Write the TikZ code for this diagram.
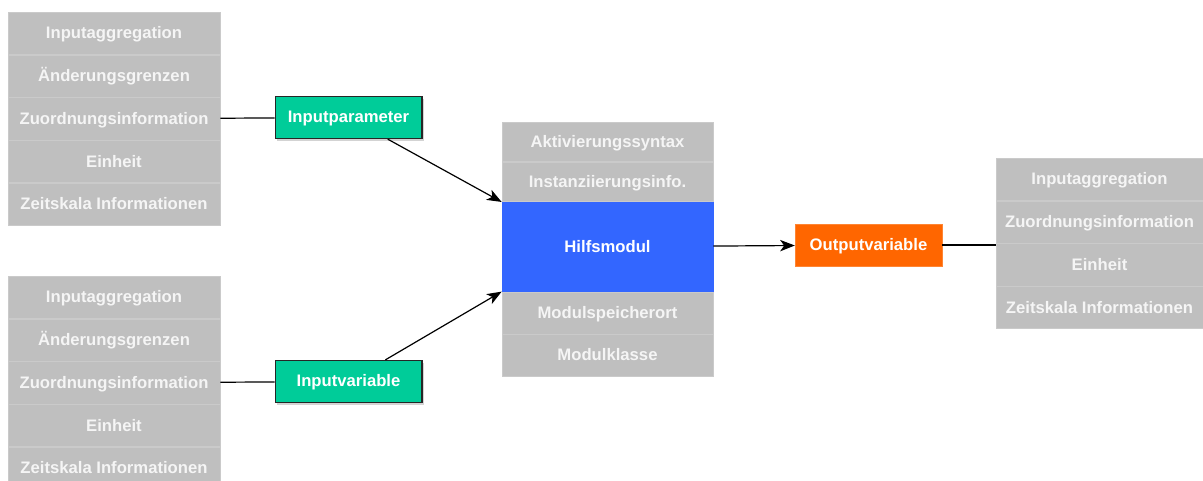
\documentclass[tikz,border=0pt]{standalone}
\usepackage{fontspec}
\setmainfont{Liberation Sans}
\usetikzlibrary{arrows.meta,positioning,shadows}

\definecolor{attrgray}{HTML}{BFBFBF}
\definecolor{attrline}{HTML}{CACACA}
\definecolor{attrtext}{HTML}{F5F5F5}
\definecolor{ingreen}{HTML}{00CC99}
\definecolor{modblue}{HTML}{3366FF}
\definecolor{outorange}{HTML}{FF6600}

\tikzset{
  attr/.style={draw=attrline, line width=0.5pt, fill=attrgray, text=attrtext,
    font=\bfseries\fontsize{12.5}{14}\selectfont, inner sep=0pt,
    text height=8.5pt, text depth=0.5pt,
    minimum width=159pt, minimum height=31.65pt},
  inbox/.style={draw=black!85, line width=1pt, fill=ingreen, text=white,
    font=\bfseries\fontsize{12.5}{14}\selectfont, inner sep=0pt,
    text height=8.5pt, text depth=0.5pt,
    minimum width=110pt, minimum height=31.5pt,
    drop shadow={shadow xshift=1.5pt, shadow yshift=-1.5pt, opacity=0.35}},
  outbox/.style={draw=outorange!80!white, line width=0.5pt, fill=outorange, text=white,
    font=\bfseries\fontsize{12.5}{14}\selectfont, inner sep=0pt,
    text height=8.5pt, text depth=0.5pt,
    minimum width=110pt, minimum height=31.5pt},
}

\begin{document}
\begin{tikzpicture}[x=0.75pt,y=0.75pt,>={Stealth[length=11pt,width=8.5pt,inset=3pt]},line width=0.9pt]
  \useasboundingbox (0,0) rectangle (1203,-480);

  % attributes of the input parameter
  \node[attr] (pa1) at (114,-33.1)     {Inputaggregation};
  \node[attr] (pa2) [below=0pt of pa1] {Änderungsgrenzen};
  \node[attr] (pa3) [below=0pt of pa2] {Zuordnungsinformation};
  \node[attr] (pa4) [below=0pt of pa3] {Einheit};
  \node[attr] (pa5) [below=0pt of pa4] {Zeitskala Informationen};

  % attributes of the input variable
  \node[attr] (va1) at (114,-297.1)    {Inputaggregation};
  \node[attr] (va2) [below=0pt of va1] {Änderungsgrenzen};
  \node[attr] (va3) [below=0pt of va2] {Zuordnungsinformation};
  \node[attr] (va4) [below=0pt of va3] {Einheit};
  \node[attr] (va5) [below=0pt of va4] {Zeitskala Informationen};

  \node[inbox] (ip) at (348.5,-117.5) {Inputparameter};
  \node[inbox] (iv) at (348.5,-381.5) {Inputvariable};

  % auxiliary module
  \node[attr, minimum width=158.25pt, minimum height=29.6pt]  (akt) at (607.5,-141.75) {Aktivierungssyntax};
  \node[attr, minimum width=158.25pt, minimum height=29.6pt]  (ins) [below=0pt of akt] {Instanziierungsinfo.};
  \node[attr, minimum width=158.25pt, minimum height=66.75pt, fill=modblue, draw=modblue, text=white]
                                                              (hm)  [below=0pt of ins] {Hilfsmodul};
  \node[attr, minimum width=158.25pt, minimum height=31.5pt]  (msp) [below=0pt of hm]  {Modulspeicherort};
  \node[attr, minimum width=158.25pt, minimum height=31.5pt]  (mkl) [below=0pt of msp] {Modulklasse};

  \node[outbox] (ov) at (868.5,-245) {Outputvariable};

  % attributes of the output variable
  \node[attr, minimum width=155.25pt] (oa1) at (1099.5,-179.1)  {Inputaggregation};
  \node[attr, minimum width=155.25pt] (oa2) [below=0pt of oa1] {Zuordnungsinformation};
  \node[attr, minimum width=155.25pt] (oa3) [below=0pt of oa2] {Einheit};
  \node[attr, minimum width=155.25pt] (oa4) [below=0pt of oa3] {Zeitskala Informationen};

  \draw (pa3) -- (ip);
  \draw (va3) -- (iv);
  \draw[->] (ip) -- (hm.north west);
  \draw[->] (iv) -- (hm.south west);
  \draw[->] (hm) -- (ov);
  \draw (ov.east) -- (ov.east -| oa3.west);
\end{tikzpicture}
\end{document}
